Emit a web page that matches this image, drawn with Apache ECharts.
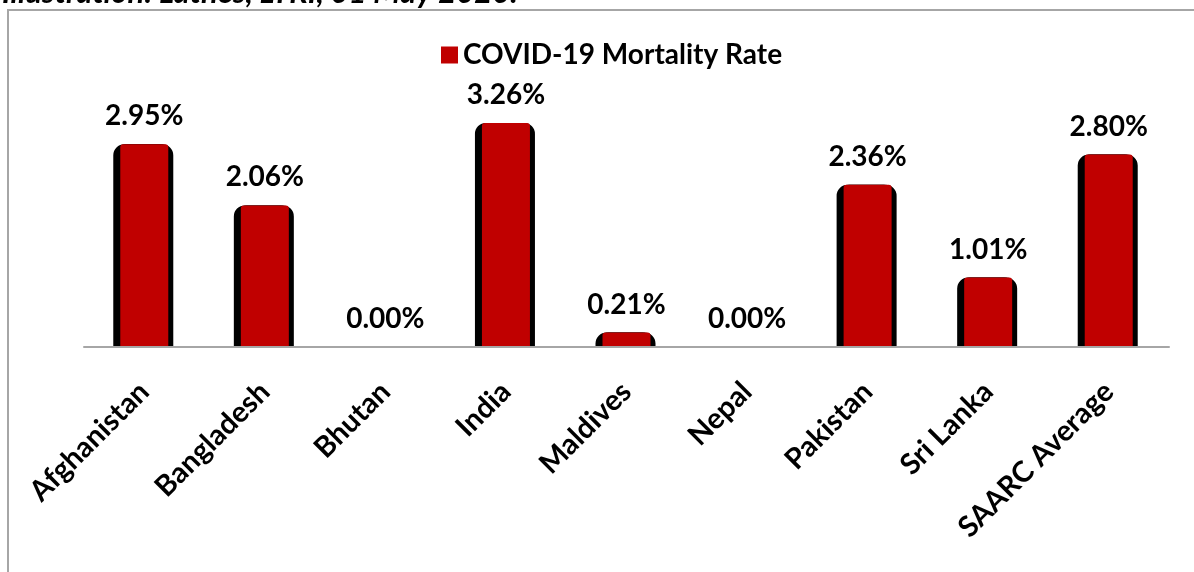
<!DOCTYPE html>
<html>
<head>
<meta charset="utf-8">
<script src="https://cdn.jsdelivr.net/npm/echarts@6/dist/echarts.min.js"></script>
<style>
html,body{margin:0;padding:0;background:#fff;}
#chart{width:1194px;height:572px;}
</style>
</head>
<body>
<div id="chart"></div>
<script>
var categories = ['Afghanistan','Bangladesh','Bhutan','India','Maldives','Nepal','Pakistan','Sri Lanka','SAARC Average'];
var mortalityRate = [2.95, 2.06, 0.00, 3.26, 0.21, 0.00, 2.36, 1.01, 2.80];
var seriesName = 'COVID-19 Mortality Rate';
var headerText = 'Illustration: Lathes, LTRI, 01 May 2020.';

var FONT = 'Lato, "Open Sans", sans-serif';
var shadeData = mortalityRate.map(function (v) {
  return v === 0 ? {value: v, itemStyle: {borderWidth: 0, color: 'rgba(0,0,0,0)', shadowColor: 'rgba(0,0,0,0)'}} : v;
});
var chart = echarts.init(document.getElementById('chart'));
chart.setOption({
  animation: false,
  backgroundColor: '#ffffff',
  graphic: [
    {type:'rect', shape:{x:8, y:10, width:1300, height:700}, style:{fill:'none', stroke:'#a6a6a6', lineWidth:2}, z:-1},
    {type:'text', x:2, y:8, style:{text:headerText, font:'italic bold 31px ' + FONT, fill:'#000', verticalAlign:'bottom'}}
  ],
  legend: {
    data: [seriesName],
    top: 36,
    left: 436,
    icon: 'rect',
    itemWidth: 17,
    itemHeight: 17,
    itemGap: 9,
    textStyle: {fontFamily: FONT, fontWeight: 'bold', fontSize: 28, color: '#000'}
  },
  grid: {left: 84, right: 25, top: 72, bottom: 225, containLabel: false},
  xAxis: [
    {
      type: 'category',
      data: categories,
      z: 5,
      axisLine: {lineStyle: {color: '#a6a6a6', width: 2}},
      axisTick: {show: false},
      axisLabel: {rotate: 45, margin: 40, interval: 0, fontFamily: FONT, fontWeight: 'bold', fontSize: 29, color: '#000'}
    },
    {
      type: 'category',
      data: categories,
      show: false,
      position: 'bottom'
    }
  ],
  yAxis: {type: 'value', min: 0, max: 4, show: false, splitLine: {show: false}},
  series: [
    {
      name: 'shade',
      type: 'bar',
      xAxisIndex: 1,
      data: shadeData,
      barWidth: 58,
      itemStyle: {color: '#000', borderColor: '#000', borderWidth: 4, borderRadius: [9, 9, 0, 0],
                  shadowColor: '#000', shadowBlur: 0, shadowOffsetX: -2},
      silent: true,
      z: 1
    },
    {
      name: seriesName,
      type: 'bar',
      xAxisIndex: 0,
      data: mortalityRate,
      barWidth: 48,
      itemStyle: {color: '#c00000', borderRadius: [3, 3, 0, 0]},
      z: 2,
      label: {
        show: true,
        position: 'top',
        distance: 14,
        formatter: function (p) { return p.value.toFixed(2) + '%'; },
        fontFamily: FONT, fontWeight: 'bold', fontSize: 28, color: '#000'
      }
    }
  ]
});
</script>
</body>
</html>
